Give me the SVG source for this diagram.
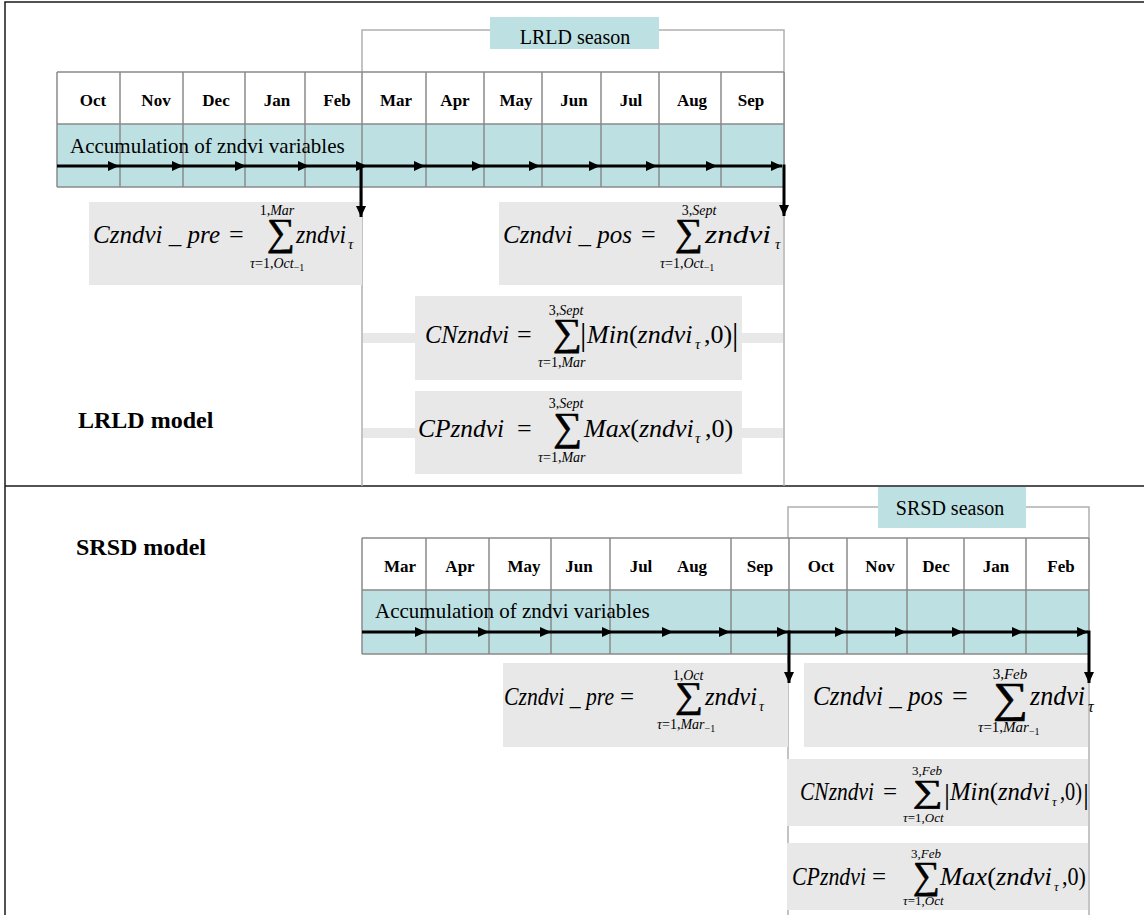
<svg xmlns="http://www.w3.org/2000/svg" width="1144" height="915" viewBox="0 0 1144 915">
<style>
.frame{stroke:#1a1a1a;stroke-width:1.5;fill:none}
.ln{stroke:#8a8a8a;stroke-width:1.5}
.br{stroke:#b0b0b0;stroke-width:1.5;fill:none}
.teal{fill:#bde0e3}
.white{fill:#ffffff}
.box{fill:#e8e8e8}
.t{font-family:"Liberation Serif","Times New Roman",serif;fill:#000}
.mo{font-family:"Liberation Serif","Times New Roman",serif;font-size:17px;font-weight:bold;text-anchor:middle;fill:#000}
.b{font-family:"Liberation Serif","Times New Roman",serif;font-size:24px;font-weight:bold;fill:#000}
.i{font-style:italic}
.c{text-anchor:middle}
.sg{stroke:#000;stroke-width:0.6}
.arr{stroke:#000;stroke-width:3;fill:none;marker-end:url(#ah)}
</style>
<defs>
<marker id="ah" markerUnits="userSpaceOnUse" markerWidth="11" markerHeight="10" refX="11" refY="5" orient="auto">
<path d="M0,0 L11,5 L0,10 z" fill="#000"/>
</marker>
</defs>

<g id="frame">
<path class="frame" d="M5,915 V2 H1144"/>
<path class="frame" d="M5,486 H1144"/>
</g>

<!-- TOP: LRLD -->
<g id="lrld-bracket">
<path class="br" d="M362,486 V30 H784 V486"/>
</g>
<g id="lrld-season">
<rect class="teal" x="490" y="17" width="169" height="32"/>
<text class="t c" x="575" y="44" font-size="20">LRLD season</text>
</g>
<g id="lrld-months">
<rect class="white" x="57" y="72" width="727" height="52"/>
<rect class="teal" x="57" y="124" width="727" height="63"/>
<path class="ln" d="M57,72 H784 M57,124 H784 M57,187 H784 M57,72 V187 M120,72 V187 M183,72 V187 M245,72 V187 M305,72 V187 M362,72 V187 M426,72 V187 M484,72 V187 M542,72 V187 M601,72 V187 M659,72 V187 M721,72 V187 M784,72 V187"/>
<text class="mo" x="93" y="106">Oct</text>
<text class="mo" x="156" y="106">Nov</text>
<text class="mo" x="216" y="106">Dec</text>
<text class="mo" x="277" y="106">Jan</text>
<text class="mo" x="337" y="106">Feb</text>
<text class="mo" x="396" y="106">Mar</text>
<text class="mo" x="455" y="106">Apr</text>
<text class="mo" x="516" y="106">May</text>
<text class="mo" x="574" y="106">Jun</text>
<text class="mo" x="631" y="106">Jul</text>
<text class="mo" x="692" y="106">Aug</text>
<text class="mo" x="751" y="106">Sep</text>
<text class="t" x="70" y="153" font-size="21">Accumulation of zndvi variables</text>
</g>

<g id="lrld-pre">
<rect class="box" x="89" y="202" width="273" height="83"/>
<text class="t i" x="93" y="243" font-size="26" textLength="127" lengthAdjust="spacingAndGlyphs">Czndvi _ pre</text>
<text class="t" x="229" y="243" font-size="26">=</text>
<text class="t sg" x="267" y="245" font-size="38" textLength="28" lengthAdjust="spacingAndGlyphs">∑</text>
<text class="t c" x="277" y="215" font-size="14">1,<tspan class="i">Mar</tspan></text>
<text class="t i" x="296" y="243" font-size="26" textLength="50" lengthAdjust="spacingAndGlyphs">zndvi</text>
<text class="t i" x="348" y="249" font-size="15">τ</text>
<text class="t" x="250" y="268" font-size="14"><tspan class="i">τ</tspan>=1,<tspan class="i">Oct</tspan><tspan font-size="10" dy="3">−1</tspan></text>
</g>

<g id="lrld-pos">
<rect class="box" x="499" y="202" width="284" height="83"/>
<text class="t i" x="503" y="243" font-size="26" textLength="129" lengthAdjust="spacingAndGlyphs">Czndvi _ pos</text>
<text class="t" x="641" y="243" font-size="26">=</text>
<text class="t sg" x="675" y="245" font-size="38" textLength="28" lengthAdjust="spacingAndGlyphs">∑</text>
<text class="t c" x="699" y="215" font-size="14">3,<tspan class="i">Sept</tspan></text>
<text class="t i" x="705" y="243" font-size="26" textLength="66" lengthAdjust="spacingAndGlyphs">zndvi</text>
<text class="t i" x="775" y="249" font-size="15">τ</text>
<text class="t" x="660" y="268" font-size="14"><tspan class="i">τ</tspan>=1,<tspan class="i">Oct</tspan><tspan font-size="10" dy="3">−1</tspan></text>
</g>

<g id="lrld-cn">
<rect class="box" x="363" y="333" width="52" height="10"/>
<rect class="box" x="742" y="333" width="41" height="10"/>
<rect class="box" x="415" y="296" width="327" height="84"/>
<text class="t i" x="425" y="343" font-size="26" textLength="84" lengthAdjust="spacingAndGlyphs">CNzndvi</text>
<text class="t" x="517" y="343" font-size="26">=</text>
<text class="t sg" x="553" y="345" font-size="38" textLength="29" lengthAdjust="spacingAndGlyphs">∑</text>
<text class="t c" x="566" y="315" font-size="14">3,<tspan class="i">Sept</tspan></text>
<text class="t" x="580" y="345" font-size="32">|</text>
<text class="t" x="587" y="343" font-size="26"><tspan class="i">Min</tspan>(<tspan class="i">zndvi</tspan></text>
<text class="t i" x="695" y="349" font-size="15">τ</text>
<text class="t" x="704" y="343" font-size="26">,0)</text>
<text class="t" x="732" y="345" font-size="32">|</text>
<text class="t" x="538" y="367" font-size="14"><tspan class="i">τ</tspan>=1,<tspan class="i">Mar</tspan></text>
</g>

<g id="lrld-cp">
<rect class="box" x="363" y="428" width="52" height="10"/>
<rect class="box" x="742" y="428" width="41" height="10"/>
<rect class="box" x="415" y="391" width="327" height="83"/>
<text class="t i" x="418" y="437" font-size="26" textLength="86" lengthAdjust="spacingAndGlyphs">CPzndvi</text>
<text class="t" x="517" y="437" font-size="26">=</text>
<text class="t sg" x="553" y="440" font-size="40" textLength="29" lengthAdjust="spacingAndGlyphs">∑</text>
<text class="t c" x="566" y="408" font-size="14">3,<tspan class="i">Sept</tspan></text>
<text class="t" x="584" y="437" font-size="26"><tspan class="i">Max</tspan>(<tspan class="i">zndvi</tspan></text>
<text class="t i" x="695" y="443" font-size="15">τ</text>
<text class="t" x="705" y="437" font-size="26">,0)</text>
<text class="t" x="538" y="462" font-size="14"><tspan class="i">τ</tspan>=1,<tspan class="i">Mar</tspan></text>
</g>

<g id="lrld-title">
<text class="b" x="78" y="428">LRLD model</text>
</g>

<!-- BOTTOM: SRSD -->
<g id="srsd-bracket">
<path class="br" d="M788,915 V507 H1089 V538"/>
<path class="br" d="M1089,683 V915"/>
</g>
<g id="srsd-season">
<rect class="teal" x="878" y="487" width="148" height="41"/>
<text class="t c" x="950" y="515" font-size="20">SRSD season</text>
</g>
<g id="srsd-title">
<text class="b" x="76" y="555">SRSD model</text>
</g>
<g id="srsd-months">
<rect class="white" x="362" y="538" width="727" height="52"/>
<rect class="teal" x="362" y="590" width="727" height="64"/>
<path class="ln" d="M362,538 H1089 M362,590 H1089 M362,654 H1089 M362,538 V654 M426,538 V654 M489,538 V654 M551,538 V654 M610,538 V654 M731,538 V654 M789,538 V654 M847,538 V654 M907,538 V654 M964,538 V654 M1026,538 V654 M1089,538 V654"/>
<text class="mo" x="400" y="572">Mar</text>
<text class="mo" x="460" y="572">Apr</text>
<text class="mo" x="524" y="572">May</text>
<text class="mo" x="579" y="572">Jun</text>
<text class="mo" x="641" y="572">Jul</text>
<text class="mo" x="692" y="572">Aug</text>
<text class="mo" x="760" y="572">Sep</text>
<text class="mo" x="821" y="572">Oct</text>
<text class="mo" x="880" y="572">Nov</text>
<text class="mo" x="936" y="572">Dec</text>
<text class="mo" x="996" y="572">Jan</text>
<text class="mo" x="1061" y="572">Feb</text>
<text class="t" x="375" y="618" font-size="21">Accumulation of zndvi variables</text>
</g>

<g id="srsd-pre">
<rect class="box" x="503" y="663" width="285" height="84"/>
<text class="t i" x="504" y="705" font-size="25" textLength="110" lengthAdjust="spacingAndGlyphs">Czndvi _ pre</text>
<text class="t" x="620" y="705" font-size="25">=</text>
<text class="t sg" x="675" y="707" font-size="36" textLength="28" lengthAdjust="spacingAndGlyphs">∑</text>
<text class="t c" x="688" y="680" font-size="14">1,<tspan class="i">Oct</tspan></text>
<text class="t i" x="705" y="705" font-size="25" textLength="52" lengthAdjust="spacingAndGlyphs">zndvi</text>
<text class="t i" x="759" y="711" font-size="14">τ</text>
<text class="t" x="657" y="729" font-size="14"><tspan class="i">τ</tspan>=1,<tspan class="i">Mar</tspan><tspan font-size="10" dy="3">−1</tspan></text>
</g>

<g id="srsd-pos">
<rect class="box" x="804" y="663" width="284" height="84"/>
<text class="t i" x="813" y="705" font-size="28" textLength="130" lengthAdjust="spacingAndGlyphs">Czndvi _ pos</text>
<text class="t" x="952" y="705" font-size="28">=</text>
<text class="t sg" x="993" y="712" font-size="43" textLength="35" lengthAdjust="spacingAndGlyphs">∑</text>
<text class="t c" x="1010" y="679" font-size="15">3,<tspan class="i">Feb</tspan></text>
<text class="t i" x="1030" y="705" font-size="28" textLength="55" lengthAdjust="spacingAndGlyphs">zndvi</text>
<text class="t i" x="1088" y="712" font-size="16">τ</text>
<text class="t" x="978" y="732" font-size="15"><tspan class="i">τ</tspan>=1,<tspan class="i">Mar</tspan><tspan font-size="10" dy="3">−1</tspan></text>
</g>

<g id="srsd-cn">
<rect class="box" x="787" y="759" width="301" height="67"/>
<text class="t i" x="800" y="800" font-size="25" textLength="74" lengthAdjust="spacingAndGlyphs">CNzndvi</text>
<text class="t" x="883" y="800" font-size="25">=</text>
<text class="t sg" x="913" y="802" font-size="32" textLength="30" lengthAdjust="spacingAndGlyphs">∑</text>
<text class="t c" x="927" y="775" font-size="13">3,<tspan class="i">Feb</tspan></text>
<text class="t" x="944" y="804" font-size="30">|</text>
<text class="t" x="950" y="800" font-size="25" textLength="100" lengthAdjust="spacingAndGlyphs"><tspan class="i">Min</tspan>(<tspan class="i">zndvi</tspan></text>
<text class="t i" x="1052" y="806" font-size="13">τ</text>
<text class="t" x="1060" y="800" font-size="25" textLength="22" lengthAdjust="spacingAndGlyphs">,0)</text>
<text class="t" x="1083" y="804" font-size="30">|</text>
<text class="t" x="903" y="822" font-size="13"><tspan class="i">τ</tspan>=1,<tspan class="i">Oct</tspan></text>
</g>

<g id="srsd-cp">
<rect class="box" x="787" y="843" width="301" height="67"/>
<text class="t i" x="792" y="885" font-size="25" textLength="74" lengthAdjust="spacingAndGlyphs">CPzndvi</text>
<text class="t" x="872" y="885" font-size="25">=</text>
<text class="t sg" x="913" y="888" font-size="38" textLength="27" lengthAdjust="spacingAndGlyphs">∑</text>
<text class="t c" x="926" y="858" font-size="13">3,<tspan class="i">Feb</tspan></text>
<text class="t" x="940" y="885" font-size="25" textLength="112" lengthAdjust="spacingAndGlyphs"><tspan class="i">Max</tspan>(<tspan class="i">zndvi</tspan></text>
<text class="t i" x="1054" y="891" font-size="13">τ</text>
<text class="t" x="1062" y="885" font-size="25" textLength="24" lengthAdjust="spacingAndGlyphs">,0)</text>
<text class="t" x="903" y="905" font-size="13"><tspan class="i">τ</tspan>=1,<tspan class="i">Oct</tspan></text>
</g>

<g id="connectors">
<line class="arr" x1="57" y1="166" x2="119" y2="166"/>
<line class="arr" x1="119" y1="166" x2="183" y2="166"/>
<line class="arr" x1="183" y1="166" x2="246" y2="166"/>
<line class="arr" x1="246" y1="166" x2="309" y2="166"/>
<line class="arr" x1="309" y1="166" x2="367" y2="166"/>
<line class="arr" x1="367" y1="166" x2="425" y2="166"/>
<line class="arr" x1="425" y1="166" x2="483" y2="166"/>
<line class="arr" x1="483" y1="166" x2="540" y2="166"/>
<line class="arr" x1="540" y1="166" x2="600" y2="166"/>
<line class="arr" x1="600" y1="166" x2="657" y2="166"/>
<line class="arr" x1="657" y1="166" x2="717" y2="166"/>
<line class="arr" x1="717" y1="166" x2="782" y2="166"/>
<line class="arr" x1="361" y1="164.5" x2="361" y2="217"/>
<line class="arr" x1="784" y1="164.5" x2="784" y2="216"/>
<line class="arr" x1="362" y1="632" x2="426" y2="632"/>
<line class="arr" x1="426" y1="632" x2="489" y2="632"/>
<line class="arr" x1="489" y1="632" x2="551" y2="632"/>
<line class="arr" x1="551" y1="632" x2="613" y2="632"/>
<line class="arr" x1="613" y1="632" x2="673" y2="632"/>
<line class="arr" x1="673" y1="632" x2="730" y2="632"/>
<line class="arr" x1="730" y1="632" x2="788" y2="632"/>
<line class="arr" x1="788" y1="632" x2="846" y2="632"/>
<line class="arr" x1="846" y1="632" x2="906" y2="632"/>
<line class="arr" x1="906" y1="632" x2="963" y2="632"/>
<line class="arr" x1="963" y1="632" x2="1023" y2="632"/>
<line class="arr" x1="1023" y1="632" x2="1088" y2="632"/>
<line class="arr" x1="789" y1="630.5" x2="789" y2="683"/>
<line class="arr" x1="1089" y1="630.5" x2="1089" y2="683"/>
</g>
</svg>
